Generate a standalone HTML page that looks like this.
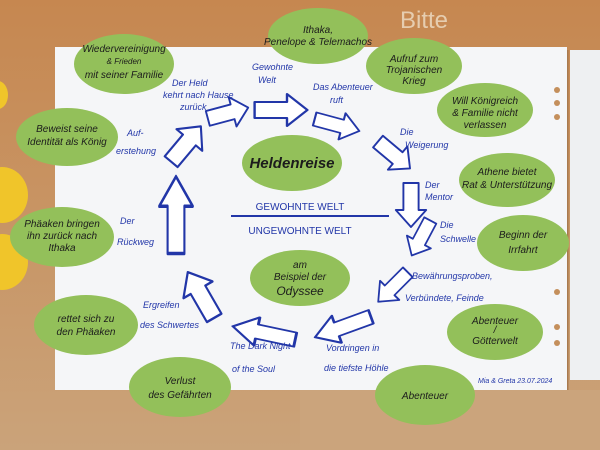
<!DOCTYPE html>
<html><head><meta charset="utf-8"><style>
html,body{margin:0;padding:0;width:600px;height:450px;overflow:hidden;background:#c48f5c}
svg{display:block}
text{font-family:"Liberation Sans",sans-serif}
.k{fill:#1c1c1c;font-size:10px;text-anchor:middle;font-style:italic}
.b{fill:#2236a8;font-size:9px;font-style:italic}
</style></head><body>
<svg width="600" height="450" viewBox="0 0 600 450">
<defs>
<linearGradient id="bg" x1="0" y1="0" x2="0" y2="1"><stop offset="0" stop-color="#c68750"/><stop offset="1" stop-color="#caa37a"/></linearGradient>
<g id="ar"><polygon points="-22,-8 5,-8 5,-16 22,0 5,16 5,8 -22,8" fill="#fff" stroke="#2236a8" stroke-width="2" stroke-linejoin="round"/></g>
</defs>
<rect width="600" height="450" fill="url(#bg)"/>
<rect x="300" y="390" width="300" height="60" fill="#cba47c"/>
<rect x="570" y="50" width="30" height="330" fill="#eef0f2"/>
<line x1="567" y1="50" x2="567" y2="390" stroke="#a87a4f" stroke-width="3"/>
<rect x="55" y="47" width="512" height="343" fill="#f5f6f8"/>
<circle cx="557" cy="90" r="3" fill="#c48f5c"/><circle cx="557" cy="103" r="3" fill="#c48f5c"/><circle cx="557" cy="117" r="3" fill="#c48f5c"/>
<circle cx="557" cy="292" r="3" fill="#c48f5c"/><circle cx="557" cy="327" r="3" fill="#c48f5c"/><circle cx="557" cy="343" r="3" fill="#c48f5c"/>
<ellipse cx="-2" cy="95" rx="10" ry="14" fill="#f0c52a"/>
<ellipse cx="2" cy="195" rx="26" ry="28" fill="#f0c52a"/>
<ellipse cx="2" cy="262" rx="26" ry="28" fill="#f0c52a"/>
<text x="400" y="28" font-size="24" fill="#e6cdb0" font-family="Liberation Sans">Bitte</text>
<use href="#ar" transform="translate(228,113) rotate(-15) scale(0.95,0.95)"/>
<use href="#ar" transform="translate(281,110) scale(1.2,1)"/>
<use href="#ar" transform="translate(337,125) rotate(15) scale(1.05,0.85)"/>
<use href="#ar" transform="translate(394,155) rotate(40) scale(0.95,0.95)"/>
<use href="#ar" transform="translate(411,205) rotate(90) scale(1,0.95)"/>
<use href="#ar" transform="translate(421,238) rotate(118) scale(0.9,0.85)"/>
<use href="#ar" transform="translate(393,287) rotate(135) scale(0.95,0.85)"/>
<use href="#ar" transform="translate(343,327) rotate(160) scale(1.35,0.9)"/>
<use href="#ar" transform="translate(264,333) rotate(192) scale(1.45,0.9)"/>
<use href="#ar" transform="translate(201,295) rotate(-120) scale(1.2,1.05)"/>
<use href="#ar" transform="translate(176,215) rotate(-90) scale(1.75,1.05)"/>
<use href="#ar" transform="translate(186,144) rotate(-50) scale(1.05,1.05)"/>
<line x1="231" y1="216" x2="389" y2="216" stroke="#2236a8" stroke-width="2"/>
<text x="300" y="210" font-size="10" fill="#2236a8" text-anchor="middle" font-family="Liberation Sans">GEWOHNTE WELT</text>
<text x="300" y="234" font-size="10" fill="#2236a8" text-anchor="middle" font-family="Liberation Sans">UNGEWOHNTE WELT</text>
<g fill="#93c05a">
<ellipse cx="124" cy="64" rx="50" ry="30"/>
<ellipse cx="318" cy="36" rx="50" ry="28"/>
<ellipse cx="414" cy="66" rx="48" ry="28"/>
<ellipse cx="485" cy="110" rx="48" ry="27"/>
<ellipse cx="507" cy="180" rx="48" ry="27"/>
<ellipse cx="523" cy="243" rx="46" ry="28"/>
<ellipse cx="495" cy="332" rx="48" ry="28"/>
<ellipse cx="425" cy="395" rx="50" ry="30"/>
<ellipse cx="180" cy="387" rx="51" ry="30"/>
<ellipse cx="86" cy="325" rx="52" ry="30"/>
<ellipse cx="62" cy="237" rx="52" ry="30"/>
<ellipse cx="67" cy="137" rx="51" ry="29"/>
<ellipse cx="292" cy="163" rx="50" ry="28"/>
<ellipse cx="300" cy="278" rx="50" ry="28"/>
</g>
<g class="k">
<text x="124" y="52">Wiedervereinigung</text><text x="124" y="64" font-size="8">&amp; Frieden</text><text x="124" y="78">mit seiner Familie</text>
<text x="318" y="33">Ithaka,</text><text x="318" y="45">Penelope &amp; Telemachos</text>
<text x="414" y="62">Aufruf zum</text><text x="414" y="73">Trojanischen</text><text x="414" y="84">Krieg</text>
<text x="485" y="104">Will Königreich</text><text x="485" y="116">&amp; Familie nicht</text><text x="485" y="128">verlassen</text>
<text x="507" y="175">Athene bietet</text><text x="507" y="188">Rat &amp; Unterstützung</text>
<text x="523" y="238">Beginn der</text><text x="523" y="253">Irrfahrt</text>
<text x="495" y="324">Abenteuer</text><text x="495" y="333">/</text><text x="495" y="344">Götterwelt</text>
<text x="425" y="399">Abenteuer</text>
<text x="180" y="384">Verlust</text><text x="180" y="398">des Gefährten</text>
<text x="86" y="322">rettet sich zu</text><text x="86" y="335">den Phäaken</text>
<text x="62" y="227">Phäaken bringen</text><text x="62" y="239">ihn zurück nach</text><text x="62" y="251">Ithaka</text>
<text x="67" y="132">Beweist seine</text><text x="67" y="145">Identität als König</text>
<text x="292" y="168" font-size="15" font-weight="bold">Heldenreise</text>
<text x="300" y="268">am</text><text x="300" y="280">Beispiel der</text><text x="300" y="295" font-size="12">Odyssee</text>
</g>
<g class="b">
<text x="172" y="86">Der Held</text><text x="163" y="98">kehrt nach Hause</text><text x="180" y="110">zurück</text>
<text x="252" y="70">Gewohnte</text><text x="258" y="83">Welt</text>
<text x="313" y="90">Das Abenteuer</text><text x="330" y="103">ruft</text>
<text x="400" y="135">Die</text><text x="405" y="148">Weigerung</text>
<text x="425" y="188">Der</text><text x="425" y="200">Mentor</text>
<text x="440" y="228">Die</text><text x="440" y="242">Schwelle</text>
<text x="412" y="279">Bewährungsproben,</text><text x="405" y="301">Verbündete, Feinde</text>
<text x="326" y="351">Vordringen in</text><text x="324" y="371">die tiefste Höhle</text>
<text x="230" y="349">The Dark Night</text><text x="232" y="372">of the Soul</text>
<text x="143" y="308">Ergreifen</text><text x="140" y="328">des Schwertes</text>
<text x="120" y="224">Der</text><text x="117" y="245">Rückweg</text>
<text x="127" y="136">Auf-</text><text x="116" y="154">erstehung</text>
<text x="478" y="383" font-size="7">Mia &amp; Greta 23.07.2024</text>
</g>
</svg>
</body></html>
